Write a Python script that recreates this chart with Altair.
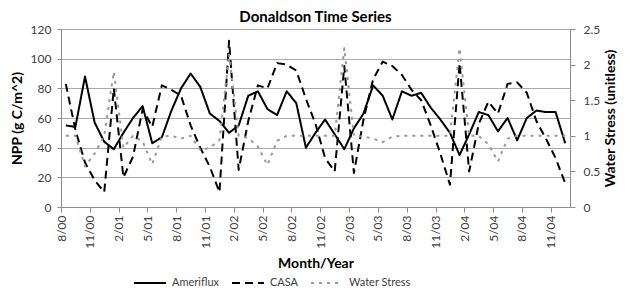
import altair as alt
import pandas as pd

months = ["8/00", "9/00", "10/00", "11/00", "12/00",
          "1/01", "2/01", "3/01", "4/01", "5/01", "6/01", "7/01", "8/01", "9/01", "10/01", "11/01", "12/01",
          "1/02", "2/02", "3/02", "4/02", "5/02", "6/02", "7/02", "8/02", "9/02", "10/02", "11/02", "12/02",
          "1/03", "2/03", "3/03", "4/03", "5/03", "6/03", "7/03", "8/03", "9/03", "10/03", "11/03", "12/03",
          "1/04", "2/04", "3/04", "4/04", "5/04", "6/04", "7/04", "8/04", "9/04", "10/04", "11/04", "12/04"]

ameriflux = [55, 54, 88, 57, 44, 39, 50, 60, 68, 43,
             47, 65, 80, 90, 81, 63, 58, 50, 55, 75,
             78, 66, 62, 78, 70, 40, 50, 59, 49, 39,
             53, 63, 82, 75, 59, 78, 75, 77, 67, 59,
             50, 35, 49, 64, 62, 51, 60, 45, 60, 65,
             64, 64, 43]

casa = [83, 52, 30, 18, 10, 80, 20, 34, 66, 54,
        82, 79, 75, 55, 40, 27, 10, 112, 25, 58,
        82, 80, 97, 96, 92, 73, 56, 33, 24, 95,
        23, 59, 86, 98, 95, 89, 79, 72, 55, 36,
        15, 97, 24, 56, 71, 63, 83, 84, 77, 58,
        46, 33, 16]

water_stress = [1.0, 1.0, 0.57, 0.75, 1.0, 1.9, 0.83, 1.0, 0.92, 0.6,
                0.99, 1.0, 0.96, 1.0, 0.8, 0.83, 0.94, 2.15, 1.0, 0.97,
                0.85, 0.59, 0.93, 1.0, 1.0, 1.0, 1.0, 1.0, 1.0, 2.23,
                1.0, 0.99, 0.96, 0.91, 0.99, 1.0, 1.0, 1.0, 1.0, 1.0,
                1.0, 2.23, 1.0, 1.0, 0.88, 0.64, 0.96, 1.0, 1.0, 1.0,
                1.0, 1.0, 1.0]

series_names = ["Ameriflux", "CASA", "Water Stress"]
npp_ticks = [0, 20, 40, 60, 80, 100, 120]
ws_ticks = [0, 0.5, 1, 1.5, 2, 2.5]
x_tick_idx = list(range(0, len(months), 3))

rows = []
for i, m in enumerate(months):
    rows.append({"pos": i + 0.5, "month": m, "series": "Ameriflux", "value": ameriflux[i]})
    rows.append({"pos": i + 0.5, "month": m, "series": "CASA", "value": casa[i]})
    rows.append({"pos": i + 0.5, "month": m, "series": "Water Stress", "value": water_stress[i]})
df = pd.DataFrame(rows)

FONT = "Lato"
AXIS_GRAY = "#8c8c8c"
LABEL_COLOR = "#404040"
label_expr = "[" + ",".join("'%s'" % m for m in months) + "][datum.value]"

color_scale = alt.Scale(domain=series_names, range=["#000000", "#000000", "#999999"])
dash_scale = alt.Scale(domain=series_names, range=[[1, 0], [8, 5], [3, 5]])
width_scale = alt.Scale(domain=series_names, range=[2, 2, 3.5])

legend = alt.Legend(title=None, orient="none", legendX=72, legendY=237,
                    direction="horizontal", columns=3, symbolType="stroke",
                    symbolSize=1024, labelFont=FONT, labelFontSize=11,
                    labelColor=LABEL_COLOR, columnPadding=8, labelOffset=5)

x_enc = alt.X("pos:Q",
              scale=alt.Scale(domain=[0, len(months)], nice=False, zero=False),
              axis=alt.Axis(values=x_tick_idx, labelExpr=label_expr, labelAngle=270,
                            title="Month/Year", grid=False, tickSize=5,
                            tickColor=AXIS_GRAY, domainColor=AXIS_GRAY,
                            labelFont=FONT, labelFontSize=12, labelColor=LABEL_COLOR,
                            labelPadding=3, titleFont=FONT, titleFontSize=14,
                            titleFontWeight="bold", titleColor="#000000", titlePadding=8))

def common(enc_y):
    return dict(
        x=x_enc,
        y=enc_y,
        color=alt.Color("series:N", scale=color_scale, legend=legend),
        strokeDash=alt.StrokeDash("series:N", scale=dash_scale, legend=legend),
        strokeWidth=alt.StrokeWidth("series:N", scale=width_scale, legend=legend),
    )

base = alt.Chart(df).mark_line(strokeJoin="round")

left = base.transform_filter("datum.series != 'Water Stress'").encode(**common(
    alt.Y("value:Q", scale=alt.Scale(domain=[0, 120], nice=False),
          axis=alt.Axis(values=npp_ticks, title="NPP (g C/m^2)", grid=True,
                        gridColor="#aaaaaa", gridWidth=1, tickSize=4,
                        tickColor=AXIS_GRAY, domainColor=AXIS_GRAY,
                        labelFont=FONT, labelFontSize=12, labelColor=LABEL_COLOR,
                        labelPadding=6, titleFont=FONT, titleFontSize=14,
                        titleFontWeight="bold", titleColor="#000000", titlePadding=6))))

right = base.transform_filter("datum.series == 'Water Stress'").encode(**common(
    alt.Y("value:Q", scale=alt.Scale(domain=[0, 2.5], nice=False),
          axis=alt.Axis(orient="right", values=ws_ticks, format=".1~f",
                        title="Water Stress (unitless)", grid=False, tickSize=5,
                        tickColor=AXIS_GRAY, domainColor=AXIS_GRAY,
                        labelFont=FONT, labelFontSize=12, labelColor=LABEL_COLOR,
                        labelPadding=8, titleFont=FONT, titleFontSize=14,
                        titleFontWeight="bold", titleColor="#000000", titleAngle=270,
                        titlePadding=18))))

chart = alt.layer(left, right).resolve_scale(y="independent").properties(
    width=509, height=178,
    title=alt.TitleParams("Donaldson Time Series", font=FONT, fontSize=15,
                          fontWeight="bold", color="#000000", anchor="middle",
                          offset=0, dy=2),
    autosize=alt.AutoSizeParams(type="none"),
    padding={"left": 53, "top": 21, "right": 53, "bottom": 84},
).configure_view(stroke=None)

chart.save("out.html", embed_options={"renderer": "svg", "actions": False})
